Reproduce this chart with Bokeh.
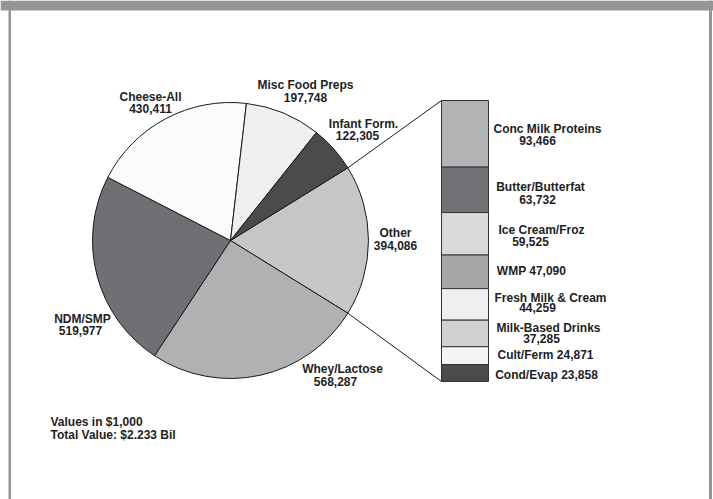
import numpy as np
from bokeh.plotting import figure
from bokeh.models import Range1d
from bokeh.core.properties import value
from bokeh.embed import file_html
from bokeh.resources import INLINE

# ---------------- data ----------------
pie_labels = ["Other", "Whey/Lactose", "NDM/SMP", "Cheese-All", "Misc Food Preps", "Infant Form."]
pie_values = [394086, 568287, 519977, 430411, 197748, 122305]

other_labels = ["Conc Milk Proteins", "Butter/Butterfat", "Ice Cream/Froz", "WMP",
                "Fresh Milk & Cream", "Milk-Based Drinks", "Cult/Ferm", "Cond/Evap"]
other_values = [93466, 63732, 59525, 47090, 44259, 37285, 24871, 23858]

note_lines = ["Values in $1,000", "Total Value: $2.233 Bil"]

# ---------------- styles / layout ----------------
pie_colors = ["#c6c6c8", "#b1b1b4", "#707074", "#fbfbfb", "#eeeff1", "#4b4b4e"]
bar_colors = ["#b3b3b6", "#717175", "#d9d9db", "#a7a7aa", "#efeff1", "#d1d1d3", "#f5f5f5", "#4b4b4e"]

W, H = 713, 499
def Y(v):
    return H - np.asarray(v, dtype=float)

FONT = value("Liberation Sans")
TXT = "#1e1e1e"

p = figure(width=W, height=H, output_backend="svg", toolbar_location=None,
           x_range=Range1d(0, W), y_range=Range1d(0, H), min_border=0,
           margin=(0, 0, 0, 0))
p.axis.visible = False
p.grid.visible = False
p.outline_line_color = None
p.background_fill_color = "white"
p.border_fill_color = "white"

# frame
frame_col = "#959598"
p.quad(left=[0, 8, 708.5], right=[W, 10.5, 711.5], top=Y([0, 0, 0]), bottom=Y([10, H, H]),
       fill_color=frame_col, line_color=None)

# ---------------- pie ----------------
cx, cy, R = 230, Y(240), 138
vals = np.array(pie_values, dtype=float)
frac = vals / vals.sum()
start = np.pi * frac[0]          # "Other" centred on the right
bounds = start - 2 * np.pi * np.concatenate([[0], np.cumsum(frac)])
p.wedge(x=cx, y=cy, radius=R, start_angle=bounds[1:], end_angle=bounds[:-1],
        direction="anticlock", fill_color=pie_colors, line_color="#1a1a1a", line_width=1)

# ---------------- stacked bar for "Other" ----------------
bx0, bx1, btop, bbot = 441, 488, 100, 381
ov = np.array(other_values, dtype=float)
scale = (bbot - btop) / ov.sum()
cum = np.concatenate([[0], np.cumsum(ov)])
p.quad(left=bx0, right=bx1, top=Y(btop + cum[:-1] * scale), bottom=Y(btop + cum[1:] * scale),
       fill_color=bar_colors, line_color="#333335", line_width=1)

# connector lines
a0, a1 = bounds[0], bounds[1]
p.segment(x0=[cx + R * np.cos(a0), cx + R * np.cos(a1)],
          y0=[cy + R * np.sin(a0), cy + R * np.sin(a1)],
          x1=[bx0, bx0], y1=[Y(btop), Y(bbot)], line_color="#1a1a1a", line_width=1)

# ---------------- labels ----------------
def fmt(v):
    return f"{v:,}"

pie_pos = [((395, 232), (395, 245)),
           ((342, 368), (335, 381)),
           ((82, 318), (80, 330)),
           ((150, 96), (150, 108)),
           ((305, 84), (305, 97)),
           ((363, 123), (357, 135))]
xs, ys, ts = [], [], []
for lab, v, (n, m) in zip(pie_labels, pie_values, pie_pos):
    xs += [n[0], m[0]]; ys += [n[1], m[1]]; ts += [lab, fmt(v)]

bar_pos = [((547, 128), (537, 140)),
           ((540, 186), (537, 199)),
           ((541, 229), (530, 241)),
           ((531, 270), None),
           ((550, 297), (537, 307)),
           ((548, 327), (541, 338)),
           ((545, 354), None),
           ((546, 374), None)]
for lab, v, (n, m) in zip(other_labels, other_values, bar_pos):
    if m is None:
        xs.append(n[0]); ys.append(n[1]); ts.append(f"{lab} {fmt(v)}")
    else:
        xs += [n[0], m[0]]; ys += [n[1], m[1]]; ts += [lab, fmt(v)]

p.text(x=xs, y=Y(ys), text=ts, text_font=FONT, text_font_style="bold",
       text_font_size="12px", text_align="center", text_baseline="middle", text_color=TXT)

p.text(x=[50, 50], y=Y([421, 434]), text=note_lines, text_font=FONT, text_font_style="bold",
       text_font_size="12px", text_align="left", text_baseline="middle", text_color=TXT)

open("out.html", "w").write(file_html(p, INLINE))
